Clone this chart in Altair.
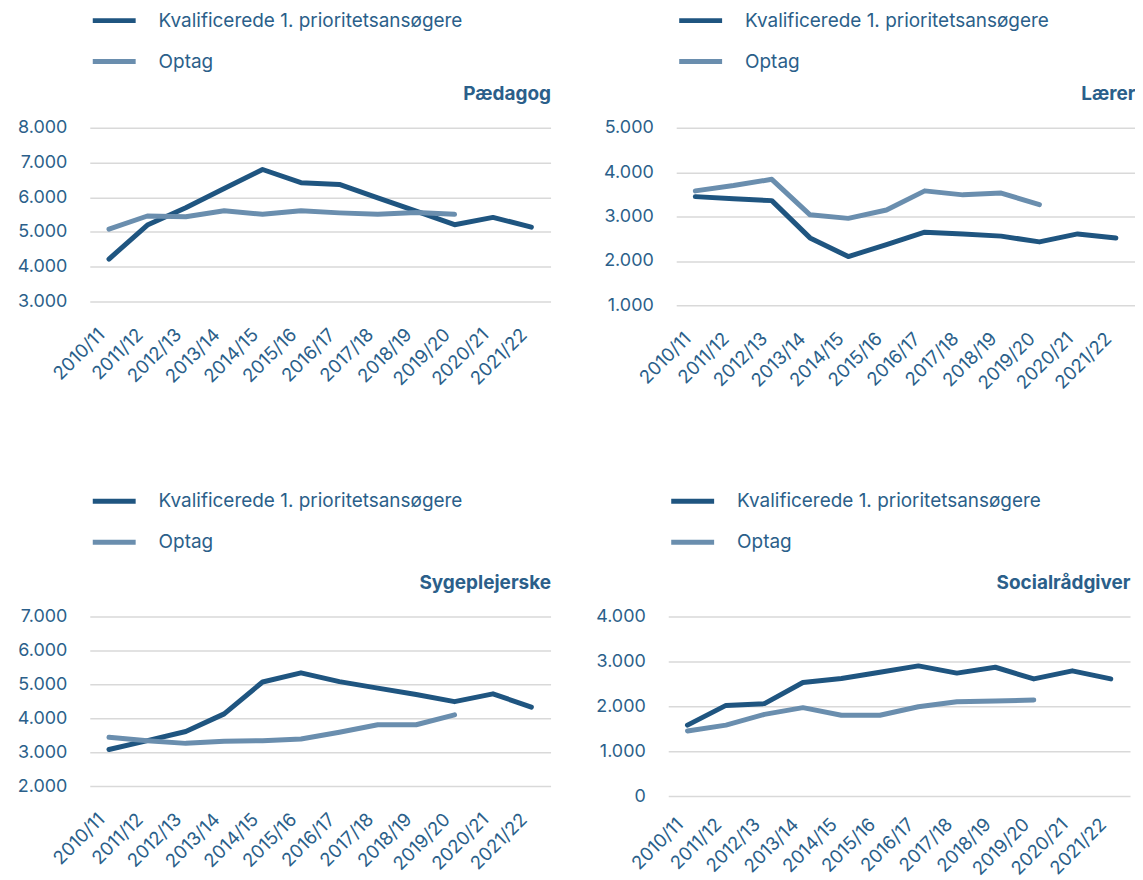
import altair as alt
import pandas as pd

years = ["2010/11", "2011/12", "2012/13", "2013/14", "2014/15", "2015/16",
         "2016/17", "2017/18", "2018/19", "2019/20", "2020/21", "2021/22"]
series_names = ["Kvalificerede 1. prioritetsansøgere", "Optag"]

paed_kval = [4220, 5200, 5700, 6250, 6800, 6420, 6370, 5980, 5600, 5210, 5420, 5140]
paed_optag = [5080, 5460, 5440, 5610, 5510, 5610, 5550, 5510, 5560, 5510]

laerer_kval = [3450, 3400, 3360, 2520, 2100, 2370, 2650, 2610, 2560, 2430, 2610, 2520]
laerer_optag = [3580, 3700, 3840, 3040, 2960, 3150, 3580, 3490, 3530, 3270]

syge_kval = [3080, 3340, 3610, 4130, 5070, 5340, 5080, 4890, 4700, 4490, 4720, 4330]
syge_optag = [3440, 3340, 3260, 3320, 3340, 3390, 3590, 3810, 3810, 4100]

social_kval = [1580, 2020, 2060, 2530, 2620, 2760, 2900, 2740, 2870, 2610, 2790, 2610]
social_optag = [1450, 1580, 1820, 1970, 1800, 1800, 1990, 2100, 2120, 2140]

panel_names = ["Pædagog", "Lærer", "Sygeplejerske", "Socialrådgiver"]
panel_kval = [paed_kval, laerer_kval, syge_kval, social_kval]
panel_optag = [paed_optag, laerer_optag, syge_optag, social_optag]
panel_domains = [[3000, 8000], [1000, 5000], [2000, 7000], [0, 4000]]
panel_heights = [174, 178, 170, 180]
panel_widths = [462, 460, 462, 463]
legend_offsets = [-132, -132, -140, -140]
label_paddings = [30, 30, 30, 25]

DARK = "#1f5580"
LIGHT = "#6a8eae"
TEXT = "#2b5f8a"
FONT = "Inter"


def make_panel(name, kval, optag, domain, h, w, ly, lp):
    rows = []
    for y, v in zip(years, kval):
        rows.append({"year": y, "series": series_names[0], "value": v})
    for y, v in zip(years, optag):
        rows.append({"year": y, "series": series_names[1], "value": v})
    df = pd.DataFrame(rows)
    return alt.Chart(df).mark_line(strokeWidth=5, strokeCap="round", strokeJoin="round").encode(
        x=alt.X("year:O", sort=years, title=None,
                scale=alt.Scale(type="point", padding=0.5),
                axis=alt.Axis(labelAngle=-45, labelAlign="right", labelBaseline="middle",
                              ticks=False, domain=False, grid=False, labelPadding=lp,
                              labelOffset=-8,
                              labelFontSize=18.5, labelColor=TEXT, labelFont=FONT,
                              minExtent=80, maxExtent=80)),
        y=alt.Y("value:Q",
                scale=alt.Scale(domain=domain, nice=False, zero=False),
                axis=alt.Axis(values=list(range(domain[0], domain[1] + 1, 1000)),
                              labelExpr="replace(format(datum.value, ','), ',', '.')",
                              ticks=False, domain=False, grid=True, gridColor="#d9d9d9",
                              gridWidth=1.5, labelPadding=23, labelFontSize=18,
                              labelColor=TEXT, labelFont=FONT, minExtent=77, maxExtent=77,
                              title=name, titleAngle=0, titleAlign="right",
                              titleBaseline="middle", titleX=w, titleY=-34,
                              titleFontSize=19, titleFontWeight="bold",
                              titleColor=TEXT, titleFont=FONT)),
        color=alt.Color("series:N", sort=series_names,
                        scale=alt.Scale(domain=series_names, range=[DARK, LIGHT]),
                        legend=alt.Legend(title=None, orient="none", legendX=0, legendY=ly,
                                          direction="vertical", symbolType="stroke",
                                          symbolSize=1850, symbolStrokeWidth=5,
                                          labelOffset=20, rowPadding=6, labelLimit=0,
                                          labelFontSize=19, labelColor=TEXT, labelFont=FONT)),
    ).properties(width=w, height=h)


p = [make_panel(*args) for args in zip(panel_names, panel_kval, panel_optag, panel_domains,
                                      panel_heights, panel_widths, legend_offsets,
                                      label_paddings)]

top = alt.hconcat(p[0], p[1], spacing=49).resolve_scale(color="independent").resolve_legend(
    color="independent")
bottom = alt.hconcat(p[2], p[3], spacing=41).resolve_scale(color="independent").resolve_legend(
    color="independent")
chart = alt.vconcat(top, bottom, spacing=84).resolve_scale(color="independent").resolve_legend(
    color="independent"
).properties(
    padding={"left": 5, "top": -13, "right": 0, "bottom": 0}
).configure_view(stroke=None)

chart.save("out.html", embed_options={"renderer": "svg", "actions": False})
